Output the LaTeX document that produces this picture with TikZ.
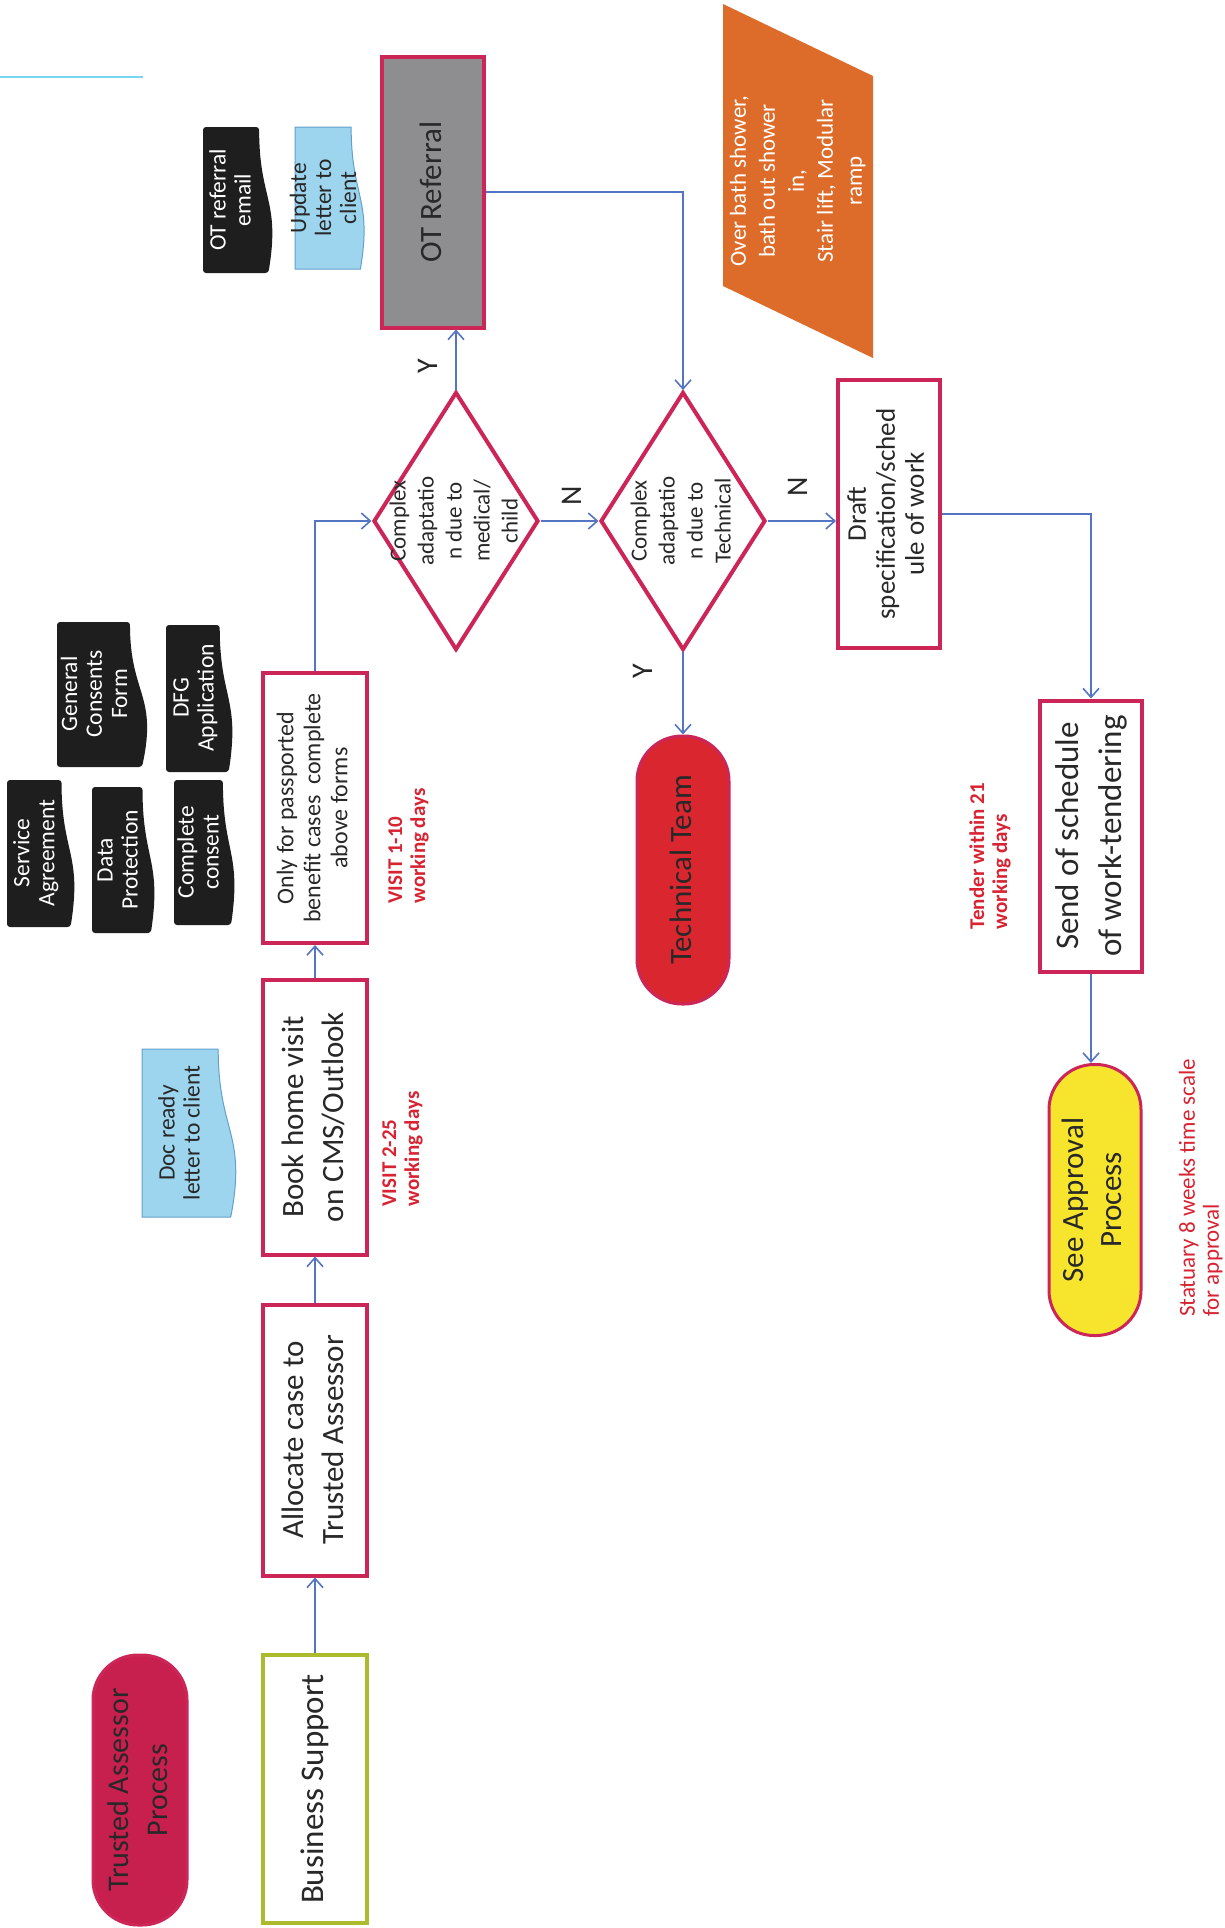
\documentclass[tikz,border=0pt]{standalone}
\usepackage{fontspec}
\setmainfont{Carlito}
\usepackage{graphicx}
\usetikzlibrary{shapes.geometric,arrows.meta}
\definecolor{crim}{RGB}{204,38,88}
\definecolor{tacrim}{RGB}{200,32,78}
\definecolor{techred}{RGB}{218,38,46}
\definecolor{otgrey}{RGB}{142,141,143}
\definecolor{orng}{RGB}{221,108,42}
\definecolor{yel}{RGB}{247,229,45}
\definecolor{bsgreen}{RGB}{172,186,46}
\definecolor{lnk}{RGB}{84,116,196}
\definecolor{lblue}{RGB}{157,213,238}
\definecolor{lbluedge}{RGB}{100,160,205}
\definecolor{docblk}{RGB}{30,30,30}
\definecolor{lblred}{RGB}{215,35,50}
\definecolor{txt}{RGB}{40,40,40}
\definecolor{cyanln}{RGB}{120,215,240}
\newcommand\rotc[1]{\rotatebox{90}{\begin{tabular}{@{}c@{}}#1\end{tabular}}}
\newcommand\rotl[1]{\rotatebox{90}{\begin{tabular}{@{}l@{}}#1\end{tabular}}}
\newcommand\fsz[2]{\fontsize{#1}{#2}\selectfont}
\newcommand\docshape[5]{\path[#1] (#2,#3) -- ({#2+0.802*#4},#3) .. controls ({#2+0.802*#4},{#3+0.5*#5}) and ({#2+1.107*#4},{#3+0.5*#5}) .. ({#2+0.934*#4},{#3+#5}) -- (#2,{#3+#5}) -- cycle;}
\begin{document}
\begin{tikzpicture}[x=1pt,y=-1pt,
  box/.style={draw=crim,line width=4pt,fill=white,inner sep=0pt,text=txt,minimum width=104pt},
  pill/.style={draw=crim,line width=3pt,inner sep=0pt,rounded corners=45pt,text=txt,minimum width=94pt,minimum height=270pt},
  dia/.style={diamond,draw=crim,line width=4pt,inner sep=0pt,minimum width=165pt,minimum height=258pt},
  lbl/.style={inner sep=0pt,text=txt,font=\fsz{30}{32}},
  note/.style={inner sep=0pt,text=lblred,font=\bfseries\fsz{21}{23}},
  dtext/.style={inner sep=0pt,font=\fsz{23.5}{25}},
  ditext/.style={inner sep=0pt,text=txt,font=\fsz{23}{28}},
  conn/.style={draw=lnk,line width=1.6pt,-{Straight Barb[length=9pt,width=16pt]}},
]
\useasboundingbox (0,0) rectangle (1224,1928);
\fill[white] (0,0) rectangle (1224,1928);
\draw[cyanln,line width=2pt] (0,77) -- (143,77);

% left column
\node[pill,fill=tacrim,font=\fsz{30}{39}] (ta) at (140,1790) {\rotc{Trusted Assessor\\Process}};
\node[box,draw=bsgreen,minimum height=268pt,font=\fsz{33}{40}] (bs) at (315,1789) {\rotc{Business Support}};
\node[box,minimum height=271pt,font=\fsz{31}{40}] (alloc) at (315,1440) {\rotc{Allocate case to\\Trusted Assessor}};
\node[box,minimum height=275pt,font=\fsz{31}{40}] (book) at (315,1117) {\rotc{Book home visit\\on CMS/Outlook}};
\node[box,minimum height=270pt,font=\fsz{24}{27}] (only) at (315,808) {\rotc{Only for passported\\benefit cases\ \ complete\\above forms}};
\node[note] (v225) at (403,1149) {\rotl{VISIT 2-25\\working days}};
\node[note] (v110) at (409,846) {\rotl{VISIT 1-10\\working days}};

% document shapes
\docshape{fill=lblue,draw=lbluedge,line width=1pt}{142}{1049}{95}{168}
\node[dtext,text=txt] (docready) at (182,1133) {\rotc{Doc ready\\letter to client}};
\docshape{fill=docblk,rounded corners=3pt}{7}{780}{68}{147}
\node[dtext,text=white] (sa) at (37,853) {\rotc{Service\\Agreement}};
\docshape{fill=docblk,rounded corners=3pt}{92}{787}{63}{146}
\node[dtext,text=white] (dp) at (120,860) {\rotc{Data\\Protection}};
\docshape{fill=docblk,rounded corners=3pt}{174}{780}{61}{145}
\node[dtext,text=white] (cc) at (201,852) {\rotc{Complete\\consent}};
\docshape{fill=docblk,rounded corners=3pt}{57}{622}{91}{145}
\node[dtext,text=white] (gc) at (97,694) {\rotc{General\\Consents\\Form}};
\docshape{fill=docblk,rounded corners=3pt}{166}{625}{67}{147}
\node[dtext,text=white] (dfg) at (196,698) {\rotc{DFG\\Application}};
\docshape{fill=docblk,rounded corners=3pt}{203}{127}{70}{146}
\node[dtext,text=white] (otmail) at (233,200) {\rotc{OT referral\\email}};
\docshape{fill=lblue,draw=lbluedge,line width=1pt}{295}{127}{70}{142}
\node[dtext,text=txt] (upd) at (326,198) {\rotc{Update\\letter to\\client}};

% decisions
\node[dia] (d1) at (456,521) {};
\node[ditext] (d1t) at (456,521) {\rotc{Complex\\adaptatio\\n due to\\medical/\\child}};
\node[dia] (d2) at (683,521) {};
\node[ditext] (d2t) at (683,521) {\rotc{Complex\\adaptatio\\n due to\\Technical}};

\node[box,fill=otgrey,minimum width=102pt,minimum height=271pt,font=\fsz{31}{40}] (ot) at (433,192) {\rotc{OT Referral}};

\fill[orng] (723,4) -- (873,76) -- (873,358) -- (723,286) -- cycle;
\node[inner sep=0pt,text=white,font=\fsz{23}{29}] (orange) at (798,181) {\rotc{Over bath shower,\\bath out shower\\in,\\Stair lift, Modular\\ramp}};

\node[box,minimum width=102pt,minimum height=268pt,font=\fsz{27}{29}] (draft) at (889,514) {\rotc{Draft\\specification/sched\\ule of work}};
\node[pill,fill=techred,minimum width=92pt,minimum height=268pt,font=\fsz{31}{40}] (tech) at (683,870) {\rotc{Technical Team}};
\node[box,minimum width=102pt,minimum height=271pt,font=\fsz{33}{43}] (send) at (1091,836) {\rotc{Send of schedule\\of work-tendering}};
\node[pill,fill=yel,minimum width=92pt,minimum height=271pt,font=\fsz{31}{38}] (appr) at (1095,1200) {\rotc{See Approval\\Process}};
\node[note] (tender) at (991,856) {\rotl{Tender within 21\\working days}};
\node[inner sep=0pt,text=lblred,font=\fsz{23}{24}] (stat) at (1202,1188) {\rotl{Statuary 8 weeks time scale\\for approval}};

% Y / N labels
\node[lbl] (y1) at (428,366) {\rotatebox{90}{Y}};
\node[lbl] (n1) at (572,496) {\rotatebox{90}{N}};
\node[lbl] (n2) at (798,487) {\rotatebox{90}{N}};
\node[lbl] (y2) at (643,671) {\rotatebox{90}{Y}};

% connectors
\draw[conn] (bs.north) -- (alloc.south);
\draw[conn] (alloc.north) -- (book.south);
\draw[conn] (book.north) -- (only.south);
\draw[conn] (only.north) |- (d1.west);
\draw[conn] (d1.east) -- (d2.west);
\draw[conn] (d1.north) -- (d1.north |- ot.south);
\draw[conn] (ot.east) -| (d2.north);
\draw[conn] (d2.east) -- (d2.east -| draft.west);
\draw[conn] (d2.south) -- (tech.north);
\draw[conn] (draft.east) -| (send.north);
\draw[conn] (send.south) -- (send.south |- appr.north);
\end{tikzpicture}
\end{document}
